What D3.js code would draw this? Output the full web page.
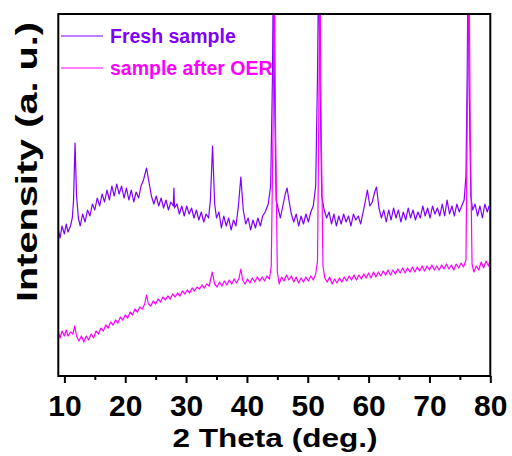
<!DOCTYPE html>
<html>
<head>
<meta charset="utf-8">
<script src="https://cdn.jsdelivr.net/npm/d3@7"></script>
<style>
  body { margin: 0; background: #fff; }
  text { font-family: "Liberation Sans", Arial, sans-serif; font-weight: bold; }
</style>
</head>
<body>
<div id="chart"></div>
<script>
// series names and colours
const seriesNames = ['Fresh sample', 'sample after OER'];
const seriesColors = ['#7f00ff', '#ff00ff'];

// x tick labels
const majorTicks = [10, 20, 30, 40, 50, 60, 70, 80];
const minorTicks = [15, 25, 35, 45, 55, 65, 75];

// fresh sample: [2theta, intensity a.u.]
const fresh = [
  [9.0,146],[9.3,138],[9.6,150],[10.0,142],[10.3,152],[10.6,144],[11.0,150],[11.3,158],[11.5,175],[11.75,233],
  [12.0,180],[12.3,158],[12.6,150],[13.0,162],[13.4,154],[13.8,166],[14.2,160],[14.6,172],[15.0,166],[15.4,178],
  [15.8,170],[16.2,182],[16.6,174],[17.0,186],[17.4,176],[17.8,190],[18.2,180],[18.6,192],[19.0,182],[19.4,190],
  [19.8,178],[20.2,188],[20.6,176],[21.0,186],[21.4,174],[21.8,184],[22.2,178],[22.6,190],[23.0,196],[23.5,208],
  [23.9,194],[24.3,180],[24.7,172],[25.1,180],[25.5,170],[25.9,178],[26.3,168],[26.7,176],[27.1,166],[27.5,174],
  [27.9,170],[28.0,188],[28.1,168],[28.5,172],[28.9,162],[29.3,170],[29.7,160],[30.1,170],[30.5,162],[30.9,168],
  [31.3,158],[31.7,166],[32.1,156],[32.5,164],[32.9,154],[33.3,162],[33.7,158],[34.0,176],[34.35,230],[34.7,172],
  [35.0,158],[35.4,164],[35.8,148],[36.2,160],[36.6,150],[37.0,158],[37.4,146],[37.8,156],[38.2,150],[38.6,170],
  [39.0,199],[39.4,166],[39.8,152],[40.2,158],[40.6,146],[41.0,156],[41.4,148],[41.8,158],[42.2,150],[42.6,160],
  [43.0,164],[43.5,172],[43.9,190],[44.2,300],[44.35,420],[44.5,300],[44.8,176],[45.1,168],[45.5,158],[45.9,170],
  [46.3,182],[46.6,188],[46.9,176],[47.3,162],[47.7,154],[48.1,162],[48.5,150],[48.9,160],[49.3,152],[49.7,162],
  [50.1,154],[50.5,164],[50.9,170],[51.3,190],[51.6,300],[51.8,420],[52.0,300],[52.3,180],[52.7,166],[53.1,158],
  [53.5,164],[53.9,152],[54.3,162],[54.7,150],[55.1,160],[55.5,152],[55.9,162],[56.3,154],[56.7,160],[57.1,150],
  [57.5,162],[57.9,156],[58.3,160],[58.7,152],[59.1,164],[59.5,176],[59.8,186],[60.2,170],[60.6,174],[61.0,184],
  [61.3,189],[61.7,168],[62.1,158],[62.5,166],[62.9,154],[63.3,166],[63.7,156],[64.1,168],[64.5,158],[64.9,166],
  [65.3,154],[65.7,164],[66.1,156],[66.5,168],[66.9,158],[67.3,166],[67.7,156],[68.1,164],[68.5,158],[68.9,170],
  [69.3,160],[69.7,168],[70.1,158],[70.5,170],[70.9,162],[71.3,168],[71.7,160],[72.1,172],[72.5,160],[72.9,176],
  [73.3,162],[73.7,170],[74.1,160],[74.5,172],[74.9,164],[75.3,170],[75.7,176],[76.0,200],[76.2,300],[76.35,420],
  [76.5,300],[76.8,180],[77.1,166],[77.5,172],[77.9,160],[78.3,170],[78.7,158],[79.1,172],[79.5,164],[79.8,170]
];

// sample after OER
const afterOER = [
  [9.0,44],[9.3,38],[9.6,45],[10.0,40],[10.3,46],[10.6,40],[11.0,44],[11.4,42],[11.7,50],[12.0,40],
  [12.4,35],[12.8,40],[13.2,34],[13.6,40],[14.0,36],[14.4,42],[14.8,38],[15.2,45],[15.6,42],[16.0,48],
  [16.4,45],[16.8,51],[17.2,48],[17.6,54],[18.0,51],[18.4,56],[18.8,53],[19.2,59],[19.6,56],[20.0,61],
  [20.4,58],[20.8,64],[21.2,61],[21.6,67],[22.0,64],[22.4,69],[22.8,67],[23.2,72],[23.5,81],[23.8,72],
  [24.2,70],[24.6,75],[25.0,72],[25.4,77],[25.8,74],[26.2,79],[26.6,76],[27.0,80],[27.4,77],[27.8,82],
  [28.2,79],[28.6,83],[29.0,80],[29.4,85],[29.8,82],[30.2,86],[30.6,83],[31.0,88],[31.4,85],[31.8,89],
  [32.2,87],[32.6,91],[33.0,88],[33.4,92],[33.8,90],[34.3,104],[34.7,92],[35.1,89],[35.5,94],[35.9,90],
  [36.3,95],[36.7,91],[37.1,96],[37.5,92],[37.9,97],[38.3,93],[38.7,98],[39.0,107],[39.3,96],[39.7,92],
  [40.1,97],[40.5,93],[40.9,98],[41.3,94],[41.7,99],[42.1,95],[42.5,99],[42.9,95],[43.3,100],[43.7,97],
  [44.0,110],[44.3,250],[44.5,420],[44.7,250],[45.0,104],[45.3,92],[45.7,99],[46.1,95],[46.5,101],[46.9,96],
  [47.3,100],[47.7,94],[48.1,99],[48.5,93],[48.9,98],[49.3,94],[49.7,99],[50.1,95],[50.5,100],[50.9,96],
  [51.3,102],[51.6,115],[51.8,250],[52.0,420],[52.2,250],[52.5,110],[52.8,98],[53.2,94],[53.6,99],[54.0,92],
  [54.4,97],[54.8,93],[55.2,98],[55.6,94],[56.0,99],[56.4,95],[56.8,100],[57.2,96],[57.6,101],[58.0,96],
  [58.4,101],[58.8,97],[59.2,102],[59.6,98],[60.0,103],[60.4,98],[60.8,104],[61.2,99],[61.6,104],[62.0,100],
  [62.4,105],[62.8,101],[63.2,106],[63.6,101],[64.0,106],[64.4,102],[64.8,107],[65.2,103],[65.6,108],[66.0,103],
  [66.4,108],[66.8,104],[67.2,109],[67.6,104],[68.0,109],[68.4,105],[68.8,110],[69.2,105],[69.6,110],[70.0,106],
  [70.4,111],[70.8,106],[71.2,110],[71.6,106],[72.0,111],[72.4,107],[72.8,112],[73.2,107],[73.6,111],[74.0,106],
  [74.4,112],[74.8,108],[75.2,113],[75.6,109],[76.0,116],[76.2,250],[76.5,420],[76.7,250],[77.0,112],[77.3,104],
  [77.7,110],[78.1,106],[78.5,114],[78.9,108],[79.3,115],[79.7,110],[79.9,114]
];

const width = 512, height = 456;
const plotLeft = 58.3, plotRight = 490.3, plotTop = 14, plotBottom = 376;

const svg = d3.select('#chart').append('svg')
  .attr('width', width)
  .attr('height', height);

const x = d3.scaleLinear().domain([9, 80]).range([plotLeft, plotRight]);
const y = d3.scaleLinear().domain([0, 362]).range([plotBottom, plotTop]);

svg.append('clipPath').attr('id', 'plot-clip')
  .append('rect')
  .attr('x', plotLeft).attr('y', plotTop)
  .attr('width', plotRight - plotLeft).attr('height', plotBottom - plotTop);

const line = d3.line()
  .x(d => x(d[0]))
  .y(d => y(d[1]));

const plot = svg.append('g').attr('clip-path', 'url(#plot-clip)');
[fresh, afterOER].forEach((s, i) => {
  plot.append('path')
    .datum(s)
    .attr('fill', 'none')
    .attr('stroke', seriesColors[i])
    .attr('stroke-width', 1.2)
    .attr('stroke-linejoin', 'round')
    .attr('d', line);
});

// x axis - major and minor ticks
const xAxis = d3.axisBottom(x).tickValues(majorTicks).tickSize(7).tickPadding(4);
const xMinor = d3.axisBottom(x).tickValues(minorTicks).tickSize(4).tickFormat('');

const gx = svg.append('g').attr('transform', `translate(0,${plotBottom})`).call(xAxis);
svg.append('g').attr('transform', `translate(0,${plotBottom})`).call(xMinor)
  .call(g => g.select('.domain').remove())
  .selectAll('line').attr('stroke-width', 2);

gx.select('.domain').remove();
gx.selectAll('line').attr('stroke-width', 2);
gx.selectAll('text')
  .attr('y', null).attr('dy', null)
  .attr('transform', 'translate(0,40)')
  .style('font-size', '30px')
  .attr('fill', '#000');

// frame
svg.append('rect')
  .attr('x', plotLeft).attr('y', plotTop)
  .attr('width', plotRight - plotLeft).attr('height', plotBottom - plotTop)
  .attr('fill', 'none')
  .attr('stroke', '#000')
  .attr('stroke-width', 2);

// axis titles
svg.append('text')
  .attr('x', 275).attr('y', 447)
  .attr('text-anchor', 'middle')
  .style('font-size', '26px')
  .attr('textLength', 205)
  .attr('lengthAdjust', 'spacingAndGlyphs')
  .text('2 Theta (deg.)');

svg.append('text')
  .attr('transform', 'translate(37,162) rotate(-90)')
  .attr('text-anchor', 'middle')
  .style('font-size', '30px')
  .attr('textLength', 280)
  .attr('lengthAdjust', 'spacingAndGlyphs')
  .text('Intensity (a. u.)');

// legend
const legend = svg.append('g');
seriesNames.forEach((name, i) => {
  const ly = 36 + i * 32;
  legend.append('line')
    .attr('x1', 61).attr('x2', 103)
    .attr('y1', ly).attr('y2', ly)
    .attr('stroke', seriesColors[i])
    .attr('stroke-width', 1.2);
  legend.append('text')
    .attr('x', 110).attr('y', ly + 7)
    .style('font-size', '19.5px')
    .attr('fill', seriesColors[i])
    .text(name);
});
</script>
</body>
</html>
